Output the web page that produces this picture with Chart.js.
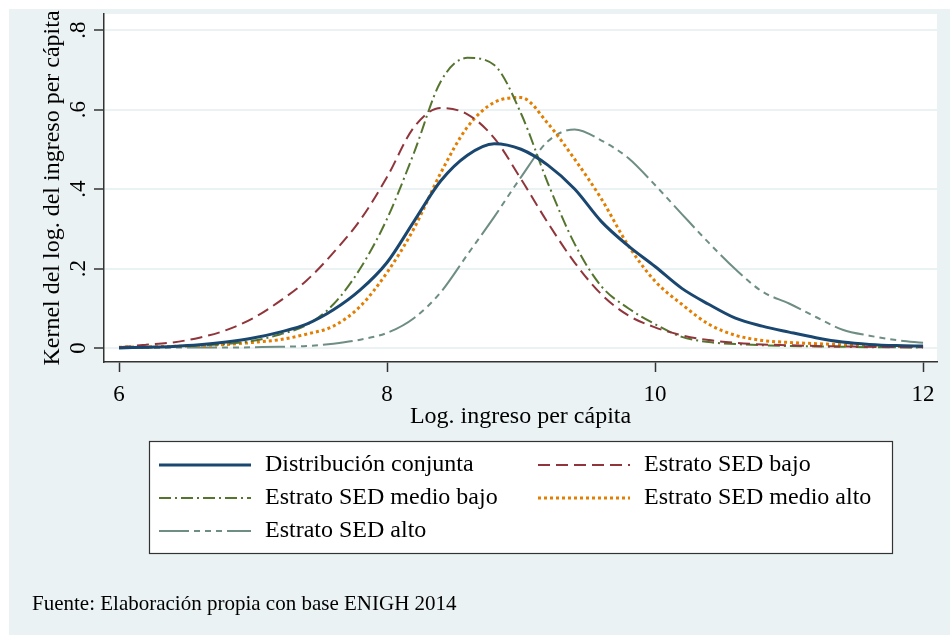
<!DOCTYPE html>
<html>
<head>
<meta charset="utf-8">
<script src="https://cdn.jsdelivr.net/npm/chart.js@4.4.0/dist/chart.umd.min.js"></script>
<style>
  body { margin: 0; background: #fff; }
  canvas { display: block; }
</style>
</head>
<body>
<canvas id="kernelChart" width="950" height="635"></canvas>
<script>
// log. ingreso per capita (eje x)
var logIngreso = [6.0, 6.2, 6.4, 6.6, 6.8, 7.0, 7.2, 7.4, 7.6, 7.8,
                  8.0, 8.2, 8.4, 8.6, 8.8, 9.0, 9.2, 9.4, 9.6, 9.8,
                  10.0, 10.2, 10.4, 10.6, 10.8, 11.0, 11.2, 11.4, 11.6, 11.8, 12.0];

// densidades kernel por grupo
var conjunta = [0.000, 0.002, 0.004, 0.008, 0.015, 0.025, 0.040, 0.060, 0.096, 0.146,
                0.215, 0.318, 0.420, 0.485, 0.514, 0.500, 0.460, 0.400, 0.318, 0.257,
                0.205, 0.150, 0.110, 0.075, 0.055, 0.040, 0.026, 0.015, 0.009, 0.006, 0.005];
var sedBajo = [0.002, 0.008, 0.014, 0.026, 0.045, 0.075, 0.118, 0.170, 0.240, 0.322,
               0.430, 0.555, 0.604, 0.588, 0.528, 0.425, 0.315, 0.215, 0.135, 0.082,
               0.052, 0.032, 0.020, 0.013, 0.009, 0.007, 0.005, 0.004, 0.003, 0.002, 0.002];
var sedMedioBajo = [0.001, 0.002, 0.003, 0.006, 0.010, 0.018, 0.034, 0.058, 0.110, 0.200,
                    0.325, 0.490, 0.670, 0.730, 0.712, 0.590, 0.415, 0.262, 0.155, 0.100,
                    0.060, 0.028, 0.015, 0.010, 0.007, 0.005, 0.004, 0.003, 0.002, 0.002, 0.001];
var sedMedioAlto = [0.002, 0.003, 0.004, 0.006, 0.009, 0.014, 0.021, 0.035, 0.055, 0.105,
                    0.190, 0.300, 0.440, 0.556, 0.618, 0.630, 0.565, 0.475, 0.375, 0.258,
                    0.168, 0.110, 0.060, 0.032, 0.019, 0.014, 0.011, 0.008, 0.005, 0.004, 0.004];
var sedAlto = [0.000, 0.000, 0.001, 0.001, 0.001, 0.002, 0.003, 0.005, 0.011, 0.021,
               0.038, 0.075, 0.140, 0.235, 0.330, 0.430, 0.520, 0.550, 0.522, 0.478,
               0.410, 0.337, 0.265, 0.198, 0.142, 0.112, 0.078, 0.046, 0.031, 0.020, 0.013];

var xTicks = [6, 8, 10, 12];
var yTicks = [0, 0.2, 0.4, 0.6, 0.8];

var serif = "'Liberation Serif', 'Times New Roman', serif";
var fondo = '#eaf2f3';
var ejes = '#333333';

function puntos(serie) {
    return logIngreso.map(function (x, i) { return { x: x, y: serie[i] }; });
}

function serie(nombre, datos, color, ancho, guiones) {
    return {
        label: nombre,
        data: puntos(datos),
        borderColor: color,
        borderWidth: ancho,
        borderDash: guiones,
        borderCapStyle: 'butt',
        pointRadius: 0,
        fill: false,
        cubicInterpolationMode: 'monotone'
    };
}

var series = [
    serie('Distribución conjunta', conjunta, '#1a476f', 3, []),
    serie('Estrato SED bajo', sedBajo, '#90353b', 2, [12, 6]),
    serie('Estrato SED medio bajo', sedMedioBajo, '#55752f', 2, [12, 4, 2, 4]),
    serie('Estrato SED medio alto', sedMedioAlto, '#e37e00', 3, [3, 3]),
    serie('Estrato SED alto', sedAlto, '#6e8e84', 2, [30, 5, 6, 5, 6, 5, 6, 5])
];

// fondo, etiquetas verticales del eje y, leyenda y fuente
var decorado = {
    id: 'decorado',
    beforeDraw: function (chart) {
        var ctx = chart.ctx, a = chart.chartArea;
        ctx.save();
        ctx.fillStyle = fondo;
        ctx.fillRect(9, 9, chart.width - 9, chart.height - 9);
        ctx.fillStyle = '#ffffff';
        ctx.fillRect(a.left, a.top, a.right - a.left, a.bottom - a.top);
        ctx.restore();
    },
    afterDraw: function (chart) {
        var ctx = chart.ctx, y = chart.scales.y;
        ctx.save();
        ctx.fillStyle = '#000';
        ctx.font = '23px ' + serif;
        ctx.textAlign = 'center';
        ctx.textBaseline = 'middle';
        yTicks.forEach(function (v) {
            var txt = v === 0 ? '0' : String(v).replace(/^0/, '');
            ctx.save();
            ctx.translate(79, y.getPixelForValue(v));
            ctx.rotate(-Math.PI / 2);
            ctx.fillText(txt, 0, 0);
            ctx.restore();
        });

        // leyenda en dos columnas
        ctx.fillStyle = '#ffffff';
        ctx.fillRect(149, 441, 743, 112);
        ctx.strokeStyle = ejes;
        ctx.lineWidth = 1.2;
        ctx.strokeRect(149.5, 441.5, 743, 112);
        var filas = [465, 498, 531];
        var cols = [159, 538];
        ctx.textAlign = 'left';
        ctx.font = '24px ' + serif;
        chart.data.datasets.forEach(function (ds, i) {
            var fx = cols[i % 2], fy = filas[Math.floor(i / 2)];
            ctx.beginPath();
            ctx.setLineDash(ds.borderDash);
            ctx.lineWidth = ds.borderWidth;
            ctx.strokeStyle = ds.borderColor;
            ctx.moveTo(fx, fy);
            ctx.lineTo(fx + 92, fy);
            ctx.stroke();
            ctx.setLineDash([]);
            ctx.fillStyle = '#000';
            ctx.fillText(ds.label, fx + 106, fy);
        });

        ctx.font = '21px ' + serif;
        ctx.fillText('Fuente: Elaboración propia con base ENIGH 2014', 32, 604);
        ctx.restore();
    }
};

var ctx = document.getElementById('kernelChart').getContext('2d');
var kernelChart = new Chart(ctx, {
    type: 'line',
    data: { datasets: series },
    plugins: [decorado],
    options: {
        responsive: false,
        animation: false,
        layout: { padding: { left: 0, top: 14, right: 13, bottom: 203 } },
        plugins: {
            legend: { display: false },
            tooltip: { enabled: false }
        },
        scales: {
            x: {
                type: 'linear',
                min: 5.888,
                max: 12.104,
                afterBuildTicks: function (s) { s.ticks = xTicks.map(function (v) { return { value: v }; }); },
                afterFit: function (s) { s.height = 70; },
                grid: { display: true, drawOnChartArea: false, drawTicks: true, tickLength: 10, tickColor: ejes, tickWidth: 1.5 },
                border: { display: true, color: ejes, width: 1.5 },
                ticks: { color: '#000', font: { family: serif, size: 23 }, padding: 9, maxRotation: 0, autoSkip: false },
                title: { display: true, text: 'Log. ingreso per cápita', color: '#000', font: { family: serif, size: 24 }, padding: { top: 0, bottom: 1 } }
            },
            y: {
                type: 'linear',
                min: -0.0352,
                max: 0.8403,
                afterBuildTicks: function (s) { s.ticks = yTicks.map(function (v) { return { value: v }; }); },
                afterFit: function (s) { s.width = 104; },
                grid: { color: fondo, lineWidth: 2, drawTicks: true, tickLength: 10, tickColor: ejes, tickWidth: 1.5 },
                border: { display: true, color: ejes, width: 1.5 },
                ticks: { display: false },
                title: { display: true, text: 'Kernel del log. del ingreso per cápita', color: '#000', font: { family: serif, size: 24 }, padding: { top: 38, bottom: 0 } }
            }
        }
    }
});
</script>
</body>
</html>
